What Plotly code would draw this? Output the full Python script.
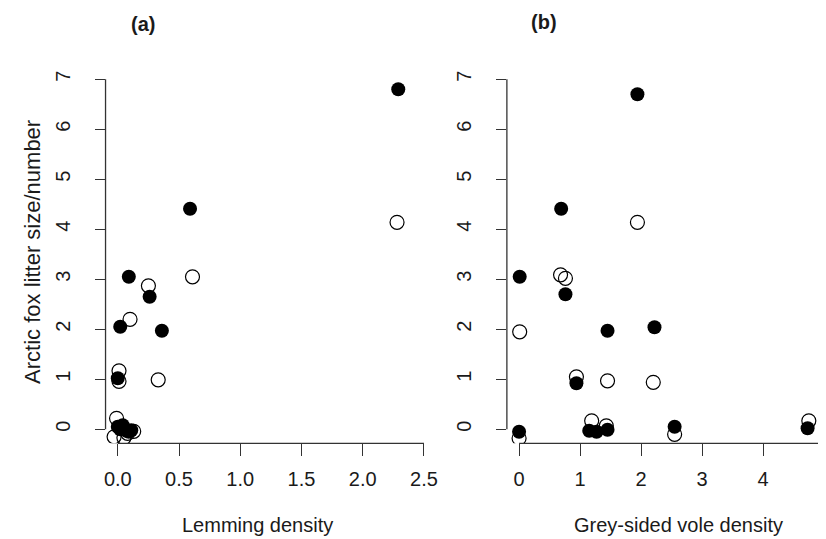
import plotly.graph_objects as go

# ---- data ----
lem_filled_x = [2.29, 0.59, 0.09, 0.26, 0.36, 0.02, 0.00, 0.00, 0.02, 0.04, 0.07, 0.09, 0.11]
lem_filled_y = [6.80, 4.41, 3.05, 2.65, 1.97, 2.05, 1.02, 0.05, 0.00, 0.08, -0.03, -0.05, -0.02]
lem_open_x = [2.28, 0.61, 0.25, 0.10, 0.33, 0.01, 0.01, -0.01, -0.03, 0.05, 0.13, 0.08]
lem_open_y = [4.14, 3.05, 2.87, 2.20, 0.99, 1.17, 0.96, 0.22, -0.15, -0.17, -0.04, -0.08]

vole_filled_x = [1.94, 0.69, 0.01, 0.76, 1.45, 2.22, 0.94, 0.00, 1.15, 1.27, 1.45, 2.55, 4.73]
vole_filled_y = [6.70, 4.41, 3.05, 2.70, 1.97, 2.04, 0.92, -0.05, -0.03, -0.05, -0.01, 0.05, 0.02]
vole_open_x = [1.94, 0.68, 0.76, 0.01, 0.94, 1.45, 2.20, 1.19, 1.43, 0.00, 2.55, 4.75]
vole_open_y = [4.14, 3.09, 3.02, 1.95, 1.05, 0.97, 0.94, 0.17, 0.07, -0.18, -0.10, 0.17]

lem_ticks = [0.0, 0.5, 1.0, 1.5, 2.0, 2.5]
lem_tick_labels = ["0.0", "0.5", "1.0", "1.5", "2.0", "2.5"]
vole_ticks = [0, 1, 2, 3, 4, 5]
vole_tick_labels = ["0", "1", "2", "3", "4", "5"]
y_ticks = [0, 1, 2, 3, 4, 5, 6, 7]
y_tick_labels = ["0", "1", "2", "3", "4", "5", "6", "7"]

panel_titles = ["(a)", "(b)"]
x_titles = ["Lemming density", "Grey-sided vole density"]
y_title = "Arctic fox litter size/number"

FONT = "Liberation Sans, Arial, Helvetica, sans-serif"
TXT = "#1a1a1a"
AX = "#333333"
W, H = 826, 539
OFF = 8  # page body margin offset


def px(x):
    return (x - OFF) / W


def py(y):
    return 1 - (y - OFF) / H


fig = go.Figure()

open_marker = dict(symbol="circle-open", size=14, color="black", line=dict(width=1.2, color="black"))
filled_marker = dict(symbol="circle", size=14, color="black", line=dict(width=0))

fig.add_trace(go.Scatter(x=lem_open_x, y=lem_open_y, mode="markers", marker=open_marker,
                         xaxis="x", yaxis="y", showlegend=False))
fig.add_trace(go.Scatter(x=lem_filled_x, y=lem_filled_y, mode="markers", marker=filled_marker,
                         xaxis="x", yaxis="y", showlegend=False))
fig.add_trace(go.Scatter(x=vole_open_x, y=vole_open_y, mode="markers", marker=open_marker,
                         xaxis="x2", yaxis="y2", showlegend=False))
fig.add_trace(go.Scatter(x=vole_filled_x, y=vole_filled_y, mode="markers", marker=filled_marker,
                         xaxis="x2", yaxis="y2", showlegend=False))

ydom = [py(443.3), py(65.3)]
xdom1 = [px(104), px(436.3)]
xdom2 = [px(507.3), 1.0]

common_x = dict(showgrid=False, zeroline=False, showline=False, ticks="outside", ticklen=12,
                tickwidth=1.3, tickcolor=AX, tickfont=dict(family=FONT, size=20, color=TXT),
                ticklabelstandoff=6)
common_y = dict(showgrid=False, zeroline=False, showline=False, ticks="outside", ticklen=10,
                tickwidth=1.3, tickcolor=AX, tickfont=dict(family=FONT, size=20, color=TXT),
                tickangle=-90, tickmode="array", tickvals=y_ticks, ticktext=y_tick_labels,
                range=[-0.28, 7.28], domain=ydom, ticklabelstandoff=17)

fig.update_layout(
    width=W, height=H,
    margin=dict(l=0, r=0, t=0, b=0),
    paper_bgcolor="white", plot_bgcolor="white",
    xaxis=dict(common_x, domain=xdom1, range=[-0.1, 2.6], tickmode="array",
               tickvals=lem_ticks, ticktext=lem_tick_labels, anchor="y"),
    yaxis=dict(common_y, anchor="x"),
    xaxis2=dict(common_x, domain=xdom2, range=[-0.2, 5.13], tickmode="array",
                tickvals=vole_ticks, ticktext=vole_tick_labels, anchor="y2"),
    yaxis2=dict(common_y, anchor="x2"),
)

# R-style axis lines spanning first to last tick
for xa, ya, xt in [("x", "y", lem_ticks), ("x2", "y2", vole_ticks)]:
    fig.add_shape(type="line", xref=xa, yref=ya + " domain", x0=xt[0], x1=xt[-1], y0=0, y1=0,
                  line=dict(color=AX, width=1.3))
    fig.add_shape(type="line", xref=xa + " domain", yref=ya, x0=0, x1=0, y0=y_ticks[0], y1=y_ticks[-1],
                  line=dict(color=AX, width=1.3))

ann = dict(xref="paper", yref="paper", showarrow=False, xanchor="center", yanchor="middle")
fig.add_annotation(text="<b>" + panel_titles[0] + "</b>", x=px(141.5), y=py(24),
                   font=dict(family=FONT, size=20, color=TXT), **ann)
fig.add_annotation(text="<b>" + panel_titles[1] + "</b>", x=px(545), y=py(22),
                   font=dict(family=FONT, size=20, color=TXT), **ann)
fig.add_annotation(text=x_titles[0], x=px(257), y=py(525),
                   font=dict(family=FONT, size=20, color=TXT), **ann)
fig.add_annotation(text=x_titles[1], x=px(680), y=py(525),
                   font=dict(family=FONT, size=20, color=TXT), **ann)
fig.add_annotation(text=y_title, x=px(30), y=py(252), textangle=-90,
                   font=dict(family=FONT, size=22, color=TXT), **ann)

fig.write_html("out.html")
